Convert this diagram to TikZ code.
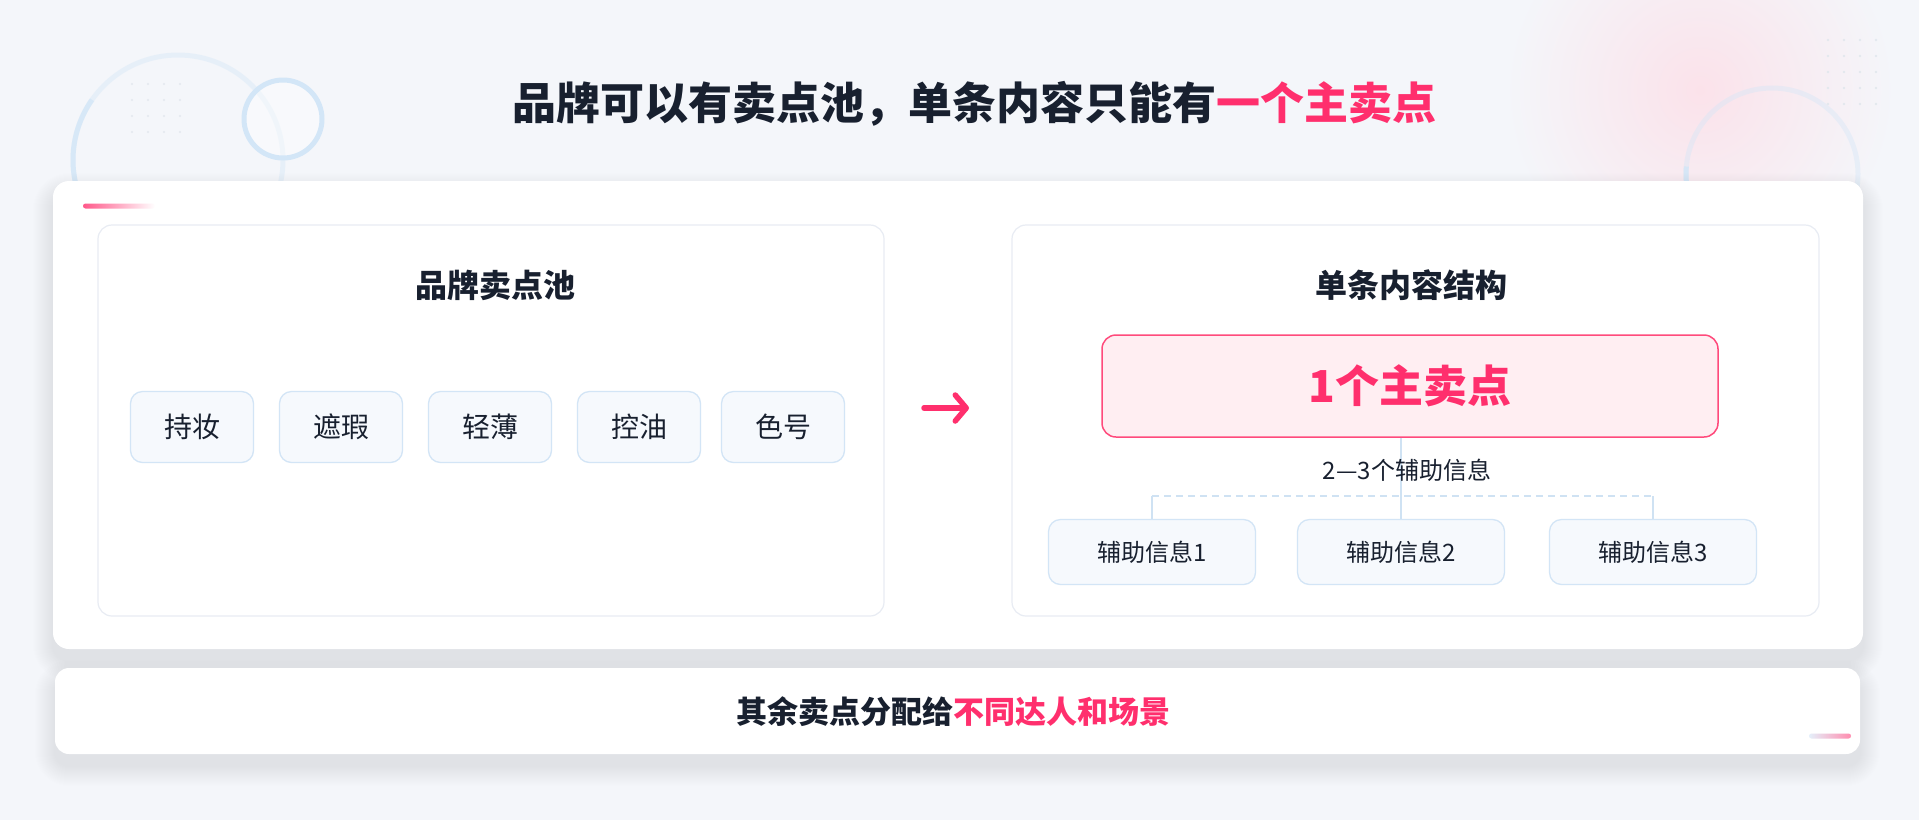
\documentclass[tikz,border=0pt]{standalone}
\usepackage{fontspec}
\setmainfont{Noto Sans CJK SC}
\usetikzlibrary{arrows.meta,calc}
\definecolor{bgcol}{HTML}{F4F6FA}
\definecolor{darktext}{HTML}{18202F}
\definecolor{accent}{HTML}{FF2F6D}
\definecolor{pinkborder}{HTML}{FF4A7C}
\definecolor{pinkfill}{HTML}{FFEEF2}
\definecolor{panelborder}{HTML}{E8ECF3}
\definecolor{chipfill}{HTML}{F6F9FD}
\definecolor{chipborder}{HTML}{D3E5F6}
\definecolor{linkcol}{HTML}{CFE2F3}
\definecolor{ringcol}{HTML}{D3E6F7}
\definecolor{glowpink}{HTML}{FBE2EA}
\definecolor{dotcol}{HTML}{E3E8EE}
\newcommand\fsz[1]{\fontsize{#1}{#1}\selectfont}
\begin{document}
\begin{tikzpicture}[x=1pt,y=-1pt,
  card/.style={draw=none, fill=white, rounded corners=16pt, inner sep=0pt},
  panel/.style={draw=panelborder, line width=1.2pt, fill=white, rounded corners=14pt, inner sep=0pt},
  chip/.style={draw=chipborder, line width=1.3pt, fill=chipfill, rounded corners=12pt,
    minimum width=123pt, minimum height=71pt, font=\fsz{28}, text=darktext, inner sep=0pt},
  infochip/.style={chip, minimum width=207pt, minimum height=65pt, font=\fsz{24}},
  mainbox/.style={draw=pinkborder, line width=1.5pt, fill=pinkfill, rounded corners=14pt,
    minimum width=616pt, minimum height=102pt, font=\bfseries\fsz{44}, text=accent, inner sep=0pt},
  heading/.style={font=\bfseries\fsz{32}, text=darktext, inner sep=0pt},
  link/.style={draw=linkcol, line width=1.3pt},
  dashlink/.style={link, dash pattern=on 7pt off 5pt},
  softshadow/.style={fill=black!70!blue, opacity=0.0045}
]
\useasboundingbox (0,0) rectangle (1919,820);
\fill[bgcol] (0,0) rectangle (1919,820);

% decorations
\shade[inner color=glowpink, outer color=bgcol] (1700,90) circle (195);
\draw[ringcol, line width=5pt, opacity=0.4] (178,160) circle (105);
\draw[ringcol, line width=5pt, opacity=0.75] (178,160) ++(120:105) arc (120:215:105);
\draw[ringcol, line width=5pt, fill=white, fill opacity=0.4] (283,119) circle (39);
\draw[ringcol, line width=5pt, opacity=0.4] (1772,174) circle (86);
\draw[ringcol, line width=5pt, opacity=0.85] (1772,174) ++(80:86) arc (80:185:86);
\foreach \i in {0,...,3} \foreach \j in {0,...,4}
  \fill[dotcol] (1828+\i*16, 40+\j*16) circle (1.3);
\foreach \i in {0,...,3} \foreach \j in {0,...,3}
  \fill[dotcol] (132+\i*16, 84+\j*16) circle (1.2);

% soft shadows of the two cards
\foreach \k in {1,...,20} {
  \fill[softshadow, rounded corners=16+\k] (53-\k,181-\k+12) rectangle (1863+\k,649+\k+12);
  \fill[softshadow, rounded corners=14+\k] (55-\k,668-\k+12) rectangle (1860+\k,754+\k+12);
}

% title
\node[font=\bfseries\fsz{44}, text=darktext, inner sep=0pt] (title) at (974,104)
  {品牌可以有卖点池，单条内容只能有\textcolor{accent}{一个主卖点}};

% main card
\node[card, minimum width=1810pt, minimum height=468pt] (maincard) at (958,415) {};
\shade[left color=accent!80, middle color=chipborder, right color=white, rounded corners=2.5pt]
  (83,203.5) rectangle (155,208.5);

% left panel
\node[panel, minimum width=786pt, minimum height=391pt] (leftpanel) at (491,420.5) {};
\node[heading] (lefttitle) at (495,285) {品牌卖点池};
\node[chip] (c1) at (192,427) {持妆};
\node[chip] (c2) at (341,427) {遮瑕};
\node[chip] (c3) at (490,427) {轻薄};
\node[chip] (c4) at (639,427) {控油};
\node[chip] (c5) at (783,427) {色号};

% arrow
\coordinate (arrA) at (924,408);
\coordinate (arrB) at (969,408);
\draw[accent, line width=5.5pt, line cap=round,
  -{Straight Barb[length=11pt, width=26pt, line cap=round, line join=round]}] (arrA) -- (arrB);

% right panel
\node[panel, minimum width=807pt, minimum height=391pt] (rightpanel) at (1415.5,420.5) {};
\node[heading] (righttitle) at (1411,285) {单条内容结构};
\node[mainbox] (main) at (1410,386) {1个主卖点};
\node[infochip] (i1) at (1152,552) {辅助信息1};
\node[infochip] (i2) at (1401,552) {辅助信息2};
\node[infochip] (i3) at (1653,552) {辅助信息3};
\coordinate (h1) at (1152,496);
\coordinate (h3) at (1653,496);
\draw[link] (main.south -| i2.north) -- (i2.north);
\draw[dashlink] (h1) -- (h3);
\draw[link] (h1) -- (i1.north);
\draw[link] (h3) -- (i3.north);
\node[font=\fsz{24}, text=darktext, inner sep=0pt] (sublabel) at (1407,470) {2—3个辅助信息};

% bottom card
\node[card, rounded corners=14pt, minimum width=1805pt, minimum height=86pt] (bottomcard) at (957.5,711) {};
\shade[left color=chipborder!60, right color=accent!55, rounded corners=2.5pt]
  (1809,733.5) rectangle (1851,738.5);
\node[font=\bfseries\fsz{31}, text=darktext, inner sep=0pt] (bottomtext) at (953,712)
  {其余卖点分配给\textcolor{accent}{不同达人和场景}};
\end{tikzpicture}
\end{document}
